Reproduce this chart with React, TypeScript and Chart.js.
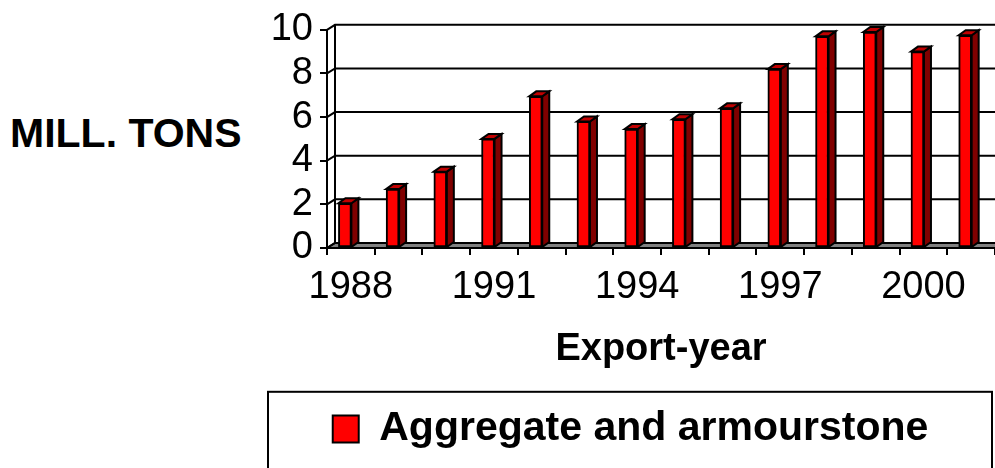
import React, { useEffect, useRef } from 'react';
import { Chart, registerables } from 'chart.js';

Chart.register(...registerables);

// ---- data ----
const years = ['1988', '1989', '1990', '1991', '1992', '1993', '1994', '1995', '1996', '1997', '1998', '1999', '2000', '2001'];
const exportValues = [2.05, 2.7, 3.5, 5.0, 6.95, 5.8, 5.45, 5.9, 6.4, 8.2, 9.7, 9.9, 9.0, 9.75];
const seriesLabel = 'Aggregate and armourstone';
const yAxisTitle = 'MILL. TONS';
const xAxisTitle = 'Export-year';
const yMin = 0;
const yMax = 10;
const yStep = 2;
const labelEvery = 3;

// ---- style ----
const FONT = '"Liberation Sans", Arial, Helvetica, sans-serif';
const BAR_DX = 7;
const BAR_DY = -5;
const WALL_DX = 8;
const WALL_DY = -5;
const BAR_SHIFT = 0.125; // bars sit slightly left of category centre (3-D depth)

const wall3d = {
  id: 'wall3d',
  beforeDatasetsDraw(chart: any) {
    const { ctx, chartArea } = chart;
    const { left, right } = chartArea;
    const y = chart.scales.y;
    const y0 = y.getPixelForValue(yMin);
    const yTop = y.getPixelForValue(yMax);
    ctx.save();
    ctx.lineWidth = 2;
    ctx.strokeStyle = '#000';
    // floor
    ctx.fillStyle = '#808080';
    ctx.beginPath();
    ctx.moveTo(left, y0);
    ctx.lineTo(right + 5, y0);
    ctx.lineTo(right + 5, y0 + WALL_DY);
    ctx.lineTo(left + WALL_DX, y0 + WALL_DY);
    ctx.closePath();
    ctx.fill();
    ctx.stroke();
    // back-wall gridlines with side-wall diagonals
    y.ticks.forEach((t: any) => {
      const py = y.getPixelForValue(t.value);
      ctx.beginPath();
      ctx.moveTo(left, py);
      ctx.lineTo(left + WALL_DX, py + WALL_DY);
      ctx.lineTo(right + 5, py + WALL_DY);
      ctx.stroke();
    });
    // side wall back edge
    ctx.beginPath();
    ctx.moveTo(left + WALL_DX, y0 + WALL_DY);
    ctx.lineTo(left + WALL_DX, yTop + WALL_DY);
    ctx.stroke();
    ctx.restore();
  },
  afterDatasetsDraw(chart: any) {
    const { ctx } = chart;
    const meta = chart.getDatasetMeta(0);
    ctx.save();
    ctx.lineWidth = 2;
    ctx.strokeStyle = '#000';
    ctx.lineJoin = 'miter';
    meta.data.forEach((bar: any) => {
      const { x, y, base, width } = bar.getProps(['x', 'y', 'base', 'width'], true);
      const l = x - width / 2;
      const r = x + width / 2;
      // side face
      ctx.fillStyle = '#800000';
      ctx.beginPath();
      ctx.moveTo(r, y);
      ctx.lineTo(r + BAR_DX, y + BAR_DY);
      ctx.lineTo(r + BAR_DX, base + BAR_DY);
      ctx.lineTo(r, base);
      ctx.closePath();
      ctx.fill();
      ctx.stroke();
      // top face
      ctx.fillStyle = '#C00000';
      ctx.beginPath();
      ctx.moveTo(l, y);
      ctx.lineTo(l + BAR_DX, y + BAR_DY);
      ctx.lineTo(r + BAR_DX, y + BAR_DY);
      ctx.lineTo(r, y);
      ctx.closePath();
      ctx.fill();
      ctx.stroke();
    });
    ctx.restore();
  },
  afterDraw(chart: any) {
    const { ctx, legend } = chart;
    if (!legend) return;
    ctx.save();
    ctx.lineWidth = 2;
    ctx.strokeStyle = '#000';
    ctx.strokeRect(2, legend.top + 15, chart.width - 5, 200);
    ctx.restore();
  },
};

export default function App() {
  const canvasRef = useRef<HTMLCanvasElement | null>(null);

  useEffect(() => {
    if (!canvasRef.current) return;
    Chart.defaults.font.family = FONT;
    Chart.defaults.color = '#000';
    const chart = new Chart(canvasRef.current, {
      type: 'bar',
      data: {
        labels: years,
        datasets: [
          {
            label: seriesLabel,
            data: exportValues.map((v, i) => ({ x: i, y: v })) as any,
            xAxisID: 'xb',
            backgroundColor: '#FF0000',
            borderColor: '#000000',
            borderWidth: 2,
            borderSkipped: false,
            barThickness: 13,
          },
        ],
      },
      options: {
        animation: false,
        responsive: false,
        maintainAspectRatio: false,
        devicePixelRatio: 1,
        layout: { padding: { top: 23, bottom: 8.5, left: 0, right: 0 } },
        plugins: {
          legend: {
            display: true,
            position: 'bottom',
            labels: {
              boxWidth: 26,
              boxHeight: 27,
              padding: 31.7,
              color: '#000',
              font: { size: 41, weight: 'bold', family: FONT },
            },
          },
          tooltip: { enabled: false },
          title: { display: false },
        },
        scales: {
          x: {
            type: 'category',
            position: 'bottom',
            offset: true,
            grid: {
              offset: true,
              drawOnChartArea: false,
              drawTicks: true,
              tickLength: 7,
              color: '#000',
              lineWidth: 2,
            },
            border: { display: true, color: '#000', width: 2 },
            ticks: {
              autoSkip: false,
              maxRotation: 0,
              minRotation: 0,
              padding: 10,
              color: '#000',
              font: { size: 38, family: FONT },
              callback: (_v: any, index: number) => (index % labelEvery === 0 ? years[index] : ''),
            },
            title: {
              display: true,
              text: xAxisTitle,
              color: '#000',
              font: { size: 38, weight: 'bold', family: FONT },
              padding: { top: 0, bottom: 4 },
            },
            afterFit: (scale: any) => {
              scale.height = 128.8;
            },
          },
          xb: {
            type: 'linear',
            display: false,
            offset: false,
            min: -0.5 - BAR_SHIFT + 0.25,
            max: years.length - 0.5 - BAR_SHIFT + 0.25,
          },
          y: {
            type: 'linear',
            position: 'left',
            min: yMin,
            max: yMax,
            grid: {
              drawOnChartArea: false,
              drawTicks: true,
              tickLength: 7,
              color: '#000',
              lineWidth: 2,
            },
            border: { display: true, color: '#000', width: 2 },
            ticks: {
              stepSize: yStep,
              autoSkip: false,
              padding: 7,
              color: '#000',
              font: { size: 38, family: FONT },
            },
            afterFit: (scale: any) => {
              scale.width = 61;
            },
          },
        },
      },
      plugins: [wall3d],
    } as any);
    return () => chart.destroy();
  }, []);

  return (
    <div style={{ position: 'absolute', left: 0, top: 0, width: 995, height: 468, background: '#fff', overflow: 'hidden' }}>
      <div
        style={{
          position: 'absolute',
          left: 10,
          top: 113,
          fontFamily: FONT,
          fontWeight: 'bold',
          fontSize: 41,
          lineHeight: '41px',
          whiteSpace: 'nowrap',
          color: '#000',
        }}
      >
        {yAxisTitle}
      </div>
      <canvas ref={canvasRef} width={729} height={468} style={{ position: 'absolute', left: 266, top: 0 }} />
    </div>
  );
}
